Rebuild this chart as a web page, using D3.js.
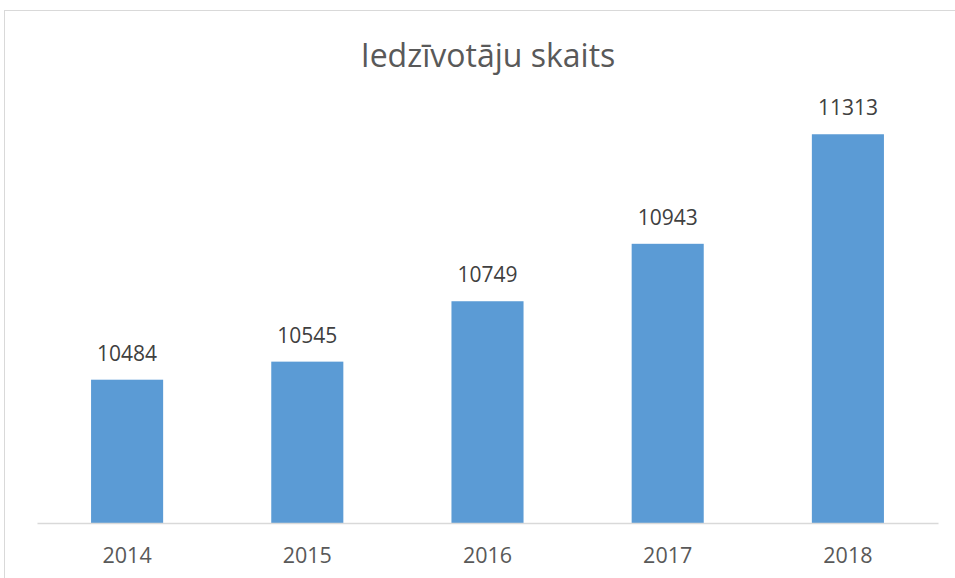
<!DOCTYPE html>
<html lang="lv">
  <head>
    <meta charset="UTF-8" />
    <title>Iedzīvotāju skaits</title>
    <script src="https://d3js.org/d3.v7.min.js"></script>
    <style>
      body { margin: 0; background: #fff; }
      text { font-family: "Open Sans", "Noto Sans", sans-serif; }
    </style>
  </head>
  <body>
    <svg width="955" height="578"></svg>

    <script>
      const years = ["2014", "2015", "2016", "2017", "2018"];
      const residents = [10484, 10545, 10749, 10943, 11313];
      const yDomain = [10000, 11400];

      const svg = d3.select("svg");

      // chart border
      svg.append("rect")
        .attr("x", 4.5).attr("y", 10.5)
        .attr("width", 960).attr("height", 580)
        .style("fill", "none")
        .style("stroke", "#d9d9d9");

      const x = d3.scaleBand()
        .domain(years)
        .range([37, 938])
        .paddingInner(0.6)
        .paddingOuter(0.3);

      const y = d3.scaleLinear()
        .domain(yDomain)
        .range([523, 108.5]);

      // title
      svg.append("text")
        .attr("x", 488).attr("y", 67)
        .style("font-size", "32px")
        .style("fill", "#595959")
        .style("text-anchor", "middle")
        .text("Iedzīvotāju skaits");

      // bars
      svg.selectAll(".bar")
        .data(residents)
        .enter().append("rect")
        .attr("class", "bar")
        .attr("x", (d, i) => x(years[i]))
        .attr("y", d => y(d))
        .attr("width", x.bandwidth())
        .attr("height", d => y(yDomain[0]) - y(d))
        .style("fill", "#5b9bd5");

      // value labels
      svg.selectAll(".val")
        .data(residents)
        .enter().append("text")
        .attr("class", "val")
        .attr("x", (d, i) => x(years[i]) + x.bandwidth() / 2)
        .attr("y", d => y(d) - 19)
        .style("font-size", "21px")
        .style("fill", "#404040")
        .style("text-anchor", "middle")
        .text(d => d);

      // x axis
      const xAxis = svg.append("g")
        .attr("transform", `translate(0,${y(yDomain[0])})`)
        .call(d3.axisBottom(x).tickSize(0).tickPadding(24.5));
      xAxis.select(".domain").attr("stroke", "#d9d9d9").attr("stroke-width", 1.5);
      xAxis.selectAll("text")
        .style("font-family", "\"Open Sans\", sans-serif")
        .style("font-size", "21.5px")
        .style("fill", "#595959");
    </script>
  </body>
</html>
